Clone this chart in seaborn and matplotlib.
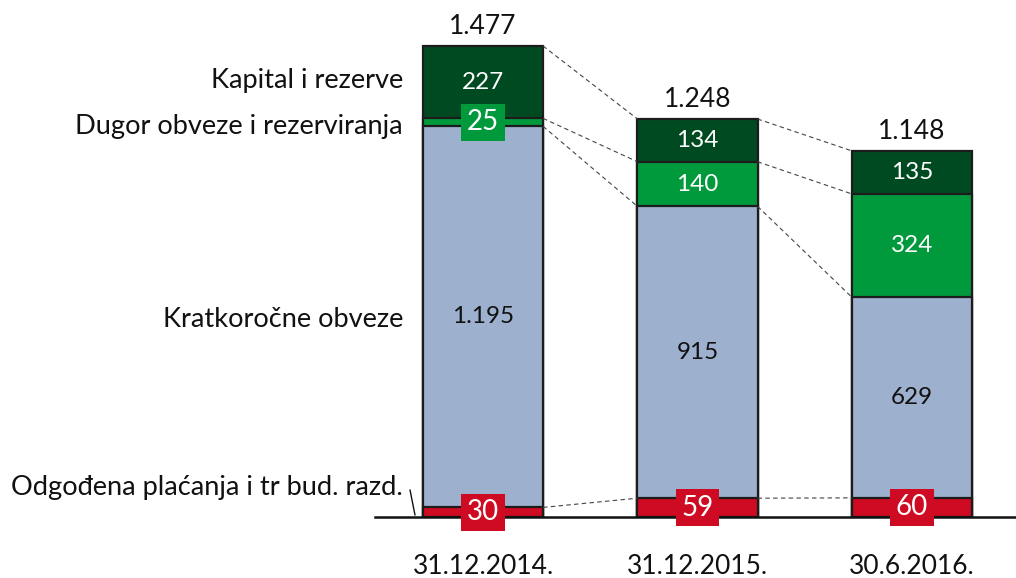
import matplotlib
matplotlib.use("Agg")
import matplotlib.pyplot as plt
import seaborn as sns
import numpy as np

# -------------------------
# Data
# -------------------------
dates = ["31.12.2014.", "31.12.2015.", "30.6.2016."]
odgodjena = [30, 59, 60]          # Odgođena plaćanja i tr bud. razd.
kratkorocne = [1195, 915, 629]    # Kratkoročne obveze
dugorocne = [25, 140, 324]        # Dugor obveze i rezerviranja
kapital = [227, 134, 135]         # Kapital i rezerve

series_names = ["Odgođena plaćanja i tr bud. razd.", "Kratkoročne obveze",
                "Dugor obveze i rezerviranja", "Kapital i rezerve"]
colors = ["#CE0B22", "#9DB0CE", "#009A3D", "#004A22"]

sns.set_style("white")
plt.rcParams["font.family"] = ["Lato", "DejaVu Sans"]


def fmt(v):
    return f"{v:,}".replace(",", ".")


layers = np.array([odgodjena, kratkorocne, dugorocne, kapital])
cums = layers.cumsum(axis=0)
totals = cums[-1]

# -------------------------
# Figure
# -------------------------
fig = plt.figure(figsize=(10.16, 5.78), dpi=100)
ax = fig.add_axes([0, 61 / 578, 1, 517 / 578])

bar_w = 0.56
edge = "#1c1c1c"
# stacked bars: draw cumulative totals from the top down
for k in range(len(layers) - 1, -1, -1):
    sns.barplot(x=dates, y=cums[k], color=colors[k], saturation=1,
                width=bar_w, edgecolor=edge, linewidth=1.6, ax=ax)

ax.set_xlim(-483 / 214.5, (1016 - 483) / 214.5)
ax.set_ylim(0, 517 / 0.3189)

# segment labels
for k in range(len(layers)):
    for i in range(len(dates)):
        v = layers[k][i]
        yc = cums[k][i] - v / 2
        if k == 0 or (k == 2 and v < 60):
            ax.text(i, yc, fmt(v), ha="center", va="center", color="white",
                    fontsize=20, zorder=5,
                    bbox=dict(boxstyle="square,pad=0.2", fc=colors[k], ec="none"))
        else:
            ax.text(i, yc, fmt(v), ha="center", va="center",
                    color="#111111" if k == 1 else "white", fontsize=17.5, zorder=5)

# totals above bars
for i, t in enumerate(totals):
    ax.annotate(fmt(t), (i, t), xytext=(0, 5), textcoords="offset points",
                ha="center", va="bottom", fontsize=19, color="#111111")

# dashed connectors between bars
for k in range(len(layers)):
    for i in range(len(dates) - 1):
        ax.plot([i + bar_w / 2, i + 1 - bar_w / 2], [cums[k][i], cums[k][i + 1]],
                color="#444444", lw=0.8, ls=(0, (4, 3)), zorder=1)

# series labels on the left
lab_x = (403 - 483) / 214.5
lab_y = [94, 618, 1223, 1370]
for name, y in zip(series_names, lab_y):
    ax.text(lab_x, y, name, ha="right", va="center", fontsize=19.6, color="#111111")
ax.plot([(410 - 483) / 214.5, (415 - 483) / 214.5], [85, 6], color="#111111", lw=1)

# axes styling
sns.despine(ax=ax, left=True)
ax.spines["bottom"].set_bounds((375 - 483) / 214.5, (1016 - 483) / 214.5)
ax.spines["bottom"].set_linewidth(1.8)
ax.spines["bottom"].set_color("#111111")
ax.set_yticks([])
ax.tick_params(axis="x", length=0, pad=27, labelsize=19, labelcolor="#111111")
ax.set_xlabel("")
ax.set_ylabel("")

fig.savefig("out.png", dpi=100)
